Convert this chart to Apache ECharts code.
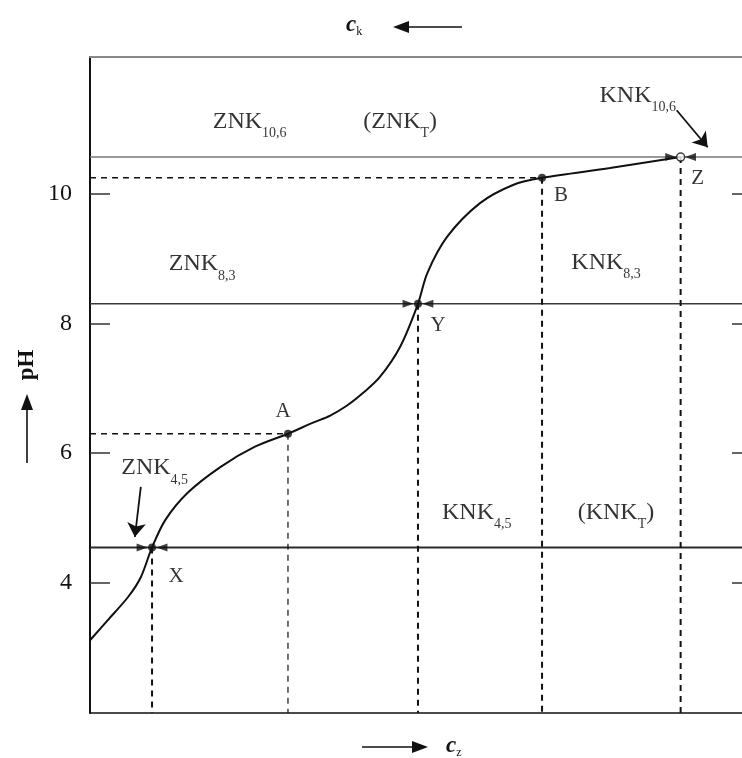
<!DOCTYPE html>
<html><head><meta charset="utf-8">
<script src="https://cdn.jsdelivr.net/npm/echarts@6/dist/echarts.min.js"></script>
<style>html,body{margin:0;padding:0;background:#fff}#c{width:742px;height:758px}</style>
</head><body><div id="c"></div>
<script>
// ---- data ----
const yTicks = [4, 6, 8, 10];
const curveX  = [0, 0.27, 0.58, 0.77, 0.94, 1.14, 1.48, 1.98, 2.50, 3.00, 3.38, 3.64, 3.89, 4.14, 4.39, 4.70, 4.97, 5.11, 5.41, 5.91, 6.41, 6.85, 7.88, 8.95];
const curvePH = [3.12, 3.43, 3.79, 4.09, 4.55, 4.97, 5.39, 5.79, 6.10, 6.30, 6.47, 6.58, 6.73, 6.93, 7.17, 7.64, 8.30, 8.77, 9.33, 9.85, 10.13, 10.24, 10.39, 10.56];
const pointNames = ['X', 'A', 'Y', 'B', 'Z'];
const pointX  = [0.94, 3.00, 4.97, 6.85, 8.95];
const pointPH = [4.55, 6.30, 8.30, 10.24, 10.56];
const levelPH = [4.55, 8.30, 10.56];
const regionLabels = ['{m|ZNK}{s|10,6}', '{m|(ZNK}{s|T}{m|)}', '{m|KNK}{s|10,6}', '{m|ZNK}{s|8,3}', '{m|KNK}{s|8,3}', '{m|ZNK}{s|4,5}', '{m|KNK}{s|4,5}', '{m|(KNK}{s|T}{m|)}'];
const regionX  = [2.42, 4.70, 8.30, 1.70, 7.82, 0.98, 5.86, 7.97];
const regionPH = [11.11, 11.11, 11.51, 8.91, 8.94, 5.77, 5.09, 5.09];
const arrowFromX = [0.77, 8.89], arrowFromPH = [5.48, 11.28];
const arrowToX   = [0.68, 9.36], arrowToPH   = [4.71, 10.71];

// ---- chart ----
const serif = '"Liberation Serif","DejaVu Serif",serif';
const ink = '#000';
const rich = {
  m: {fontFamily: serif, fontSize: 24, color: ink, lineHeight: 24, verticalAlign: 'middle', textBorderWidth: 0},
  s: {fontFamily: serif, fontSize: 14, color: ink, lineHeight: 14, padding: [24, 0, 0, 0], verticalAlign: 'middle', textBorderWidth: 0}
};
const X0 = 0, X1 = 9.88, Y0 = 2, Y1 = 12.1;

const series = [];
// solid level lines
const levelStyles = [{color: '#2a2a2a', width: 2}, {color: '#3a3a3a', width: 1.6}, {color: '#777', width: 1.5}];
levelPH.forEach((v, i) => series.push({
  type: 'line', data: [[X0, v], [X1, v]], symbol: 'none', silent: true,
  lineStyle: levelStyles[i], z: 2
}));
// dashed verticals from points
pointNames.forEach((n, i) => series.push({
  type: 'line', data: [[pointX[i], pointPH[i]], [pointX[i], Y0]], symbol: 'none', silent: true,
  lineStyle: {color: '#111', width: n === 'A' ? 1.2 : 2, type: [6, 5]}, z: 2
}));
// dashed horizontals for A and B
['A', 'B'].forEach(n => {
  const i = pointNames.indexOf(n);
  series.push({
    type: 'line', data: [[X0, pointPH[i]], [pointX[i], pointPH[i]]], symbol: 'none', silent: true,
    lineStyle: {color: '#111', width: 1.4, type: [6, 5]}, z: 2
  });
});
// curve
series.push({
  type: 'line', data: curveX.map((x, i) => [x, curvePH[i]]), smooth: 0.3, symbol: 'none',
  lineStyle: {color: '#111', width: 2}, z: 3
});
// converging arrows at X, Y, Z
const arrowPts = [];
['X', 'Y', 'Z'].forEach(n => {
  const i = pointNames.indexOf(n);
  arrowPts.push({value: [pointX[i] - 0.15, pointPH[i]], symbolRotate: -90});
  arrowPts.push({value: [pointX[i] + 0.15, pointPH[i]], symbolRotate: 90});
});
series.push({
  type: 'scatter', data: arrowPts, symbol: 'triangle', symbolSize: [8, 11],
  itemStyle: {color: '#111'}, z: 4, silent: true
});
// points
const labelOffsets = {X: [24, 29], A: [-5, -22], Y: [20, 22], B: [19, 18], Z: [17, 21]};
series.push({
  type: 'scatter', z: 5, silent: true,
  data: pointNames.map((n, i) => ({
    value: [pointX[i], pointPH[i]], name: n,
    symbolSize: 8,
    itemStyle: n === 'Z' ? {color: '#fff', borderColor: '#111', borderWidth: 1.5} : {color: '#111'},
    label: {show: true, formatter: n, position: 'inside', offset: labelOffsets[n],
      fontFamily: serif, fontSize: 21, color: ink, textBorderWidth: 0}
  }))
});
// region labels
series.push({
  type: 'scatter', z: 6, silent: true, symbolSize: 0,
  data: regionLabels.map((t, i) => ({
    value: [regionX[i], regionPH[i]],
    label: {show: true, formatter: t, position: 'inside', offset: [0, 0], color: ink, textBorderWidth: 0, rich: rich}
  }))
});
// annotation arrows
series.push({
  type: 'line', data: [], silent: true,
  markLine: {
    silent: true, symbol: ['none', 'arrow'], symbolSize: 14, label: {show: false},
    lineStyle: {color: '#111', width: 1.8, type: 'solid'},
    data: arrowFromX.map((x, i) => [{coord: [x, arrowFromPH[i]]}, {coord: [arrowToX[i], arrowToPH[i]]}])
  }
});

const option = {
  animation: false,
  backgroundColor: '#fff',
  grid: {left: 90, right: 0, top: 57, bottom: 45},
  xAxis: [
    {type: 'value', min: X0, max: X1, position: 'bottom', axisLine: {onZero: false, lineStyle: {color: '#111', width: 1.6}},
     axisTick: {show: false}, axisLabel: {show: false}, splitLine: {show: false}},
    {type: 'value', min: X0, max: X1, position: 'top', axisLine: {onZero: false, lineStyle: {color: '#888', width: 2}},
     axisTick: {show: false}, axisLabel: {show: false}, splitLine: {show: false}}
  ],
  yAxis: [
    {type: 'value', min: Y0, max: Y1, interval: 2, position: 'left',
     axisLine: {show: true, onZero: false, lineStyle: {color: '#111', width: 2}},
     axisTick: {show: true, inside: true, length: 20, customValues: yTicks, lineStyle: {color: '#333', width: 1.5}},
     axisLabel: {customValues: yTicks, margin: 18, fontFamily: serif, fontSize: 24, color: '#111'},
     splitLine: {show: false}},
    {type: 'value', min: Y0, max: Y1, interval: 2, position: 'right',
     axisLine: {show: false, onZero: false},
     axisTick: {show: true, inside: true, length: 10, customValues: yTicks, lineStyle: {color: '#333', width: 1.5}},
     axisLabel: {show: false}, splitLine: {show: false}}
  ],
  series: series,
  graphic: [
    // top: c_k  <---
    {type: 'text', left: 346, top: 14, style: {rich: {c: {fontFamily: serif, fontStyle: 'italic', fontWeight: 'bold', fontSize: 23, fill: '#111'}, s: {fontFamily: serif, fontSize: 12, fill: '#111', padding: [12, 0, 0, 0]}}, text: '{c|c}{s|k}'}},
    {type: 'line', shape: {x1: 404, y1: 27, x2: 462, y2: 27}, style: {stroke: '#111', lineWidth: 1.6}},
    {type: 'polygon', shape: {points: [[393, 27], [409, 21], [409, 33]]}, style: {fill: '#111'}},
    // bottom: ---> c_z
    {type: 'line', shape: {x1: 362, y1: 747, x2: 418, y2: 747}, style: {stroke: '#111', lineWidth: 1.6}},
    {type: 'polygon', shape: {points: [[428, 747], [412, 741], [412, 753]]}, style: {fill: '#111'}},
    {type: 'text', left: 446, top: 735, style: {rich: {c: {fontFamily: serif, fontStyle: 'italic', fontWeight: 'bold', fontSize: 23, fill: '#111'}, s: {fontFamily: serif, fontSize: 12, fill: '#111', padding: [12, 0, 0, 0]}}, text: '{c|c}{s|z}'}},
    // left: ^ pH
    {type: 'line', shape: {x1: 27, y1: 463, x2: 27, y2: 404}, style: {stroke: '#111', lineWidth: 1.6}},
    {type: 'polygon', shape: {points: [[27, 394], [21, 410], [33, 410]]}, style: {fill: '#111'}},
    {type: 'text', x: 27, y: 365, rotation: Math.PI / 2, style: {text: 'pH', fontFamily: serif, fontWeight: 'bold', fontSize: 23, fill: '#111', align: 'center', verticalAlign: 'middle'}}
  ]
};
const chart = echarts.init(document.getElementById('c'));
chart.setOption(option);
</script>
</body></html>
